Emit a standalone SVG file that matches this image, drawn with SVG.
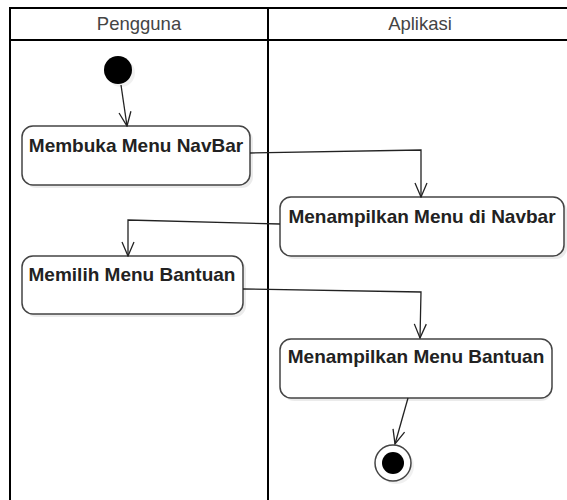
<svg xmlns="http://www.w3.org/2000/svg" width="567" height="500" viewBox="0 0 567 500">
<defs>
<style>
.lane{stroke:#000;stroke-width:2;fill:none}
.hdr{font-family:"Liberation Sans",Arial,sans-serif;font-size:18.5px;fill:#444;text-anchor:middle}
.box{fill:#fff;stroke:#444;stroke-width:1.5}
.shadow{fill:#000;opacity:0.08}
.lbl{font-family:"Liberation Sans",Arial,sans-serif;font-size:19px;font-weight:bold;fill:#222;text-anchor:middle}
.edge{fill:none;stroke:#222;stroke-width:1.3}
</style>
<marker id="arr" viewBox="0 0 16 14" refX="15" refY="7" markerWidth="16" markerHeight="14" markerUnits="userSpaceOnUse" orient="auto">
<path d="M1,1 L15,7 L1,13" fill="none" stroke="#222" stroke-width="1.3"/>
</marker>
</defs>
<rect width="567" height="500" fill="#fff"/>
<g id="lanes">
<line class="lane" x1="10" y1="8" x2="567" y2="8"/>
<line class="lane" x1="10" y1="40" x2="567" y2="40"/>
<line class="lane" x1="10" y1="7" x2="10" y2="500"/>
<line class="lane" x1="268" y1="8" x2="268" y2="500"/>
<text class="hdr" x="139" y="30">Pengguna</text>
<text class="hdr" x="420" y="30">Aplikasi</text>
</g>
<g id="start">
<circle cx="121" cy="73" r="14" fill="#000" opacity="0.06"/>
<circle cx="118" cy="70" r="14" fill="#000"/>
</g>
<g id="n1">
<rect class="shadow" x="25" y="129" width="228" height="59" rx="11"/>
<rect class="box" x="22" y="126" width="228" height="59" rx="11"/>
<text class="lbl" x="136" y="152">Membuka Menu NavBar</text>
</g>
<g id="n2">
<rect class="shadow" x="283" y="200" width="284" height="59" rx="11"/>
<rect class="box" x="280" y="197" width="284" height="59" rx="11"/>
<text class="lbl" x="422" y="223">Menampilkan Menu di Navbar</text>
</g>
<g id="n3">
<rect class="shadow" x="25" y="259" width="221" height="58" rx="11"/>
<rect class="box" x="22" y="256" width="221" height="58" rx="11"/>
<text class="lbl" x="132" y="281">Memilih Menu Bantuan</text>
</g>
<g id="n4">
<rect class="shadow" x="283" y="342" width="269" height="59" rx="11"/>
<rect class="box" x="280" y="339" width="272" height="59" rx="11"/>
<text class="lbl" x="416" y="363">Menampilkan Menu Bantuan</text>
</g>
<g id="end">
<circle cx="396" cy="466" r="18" fill="#000" opacity="0.06"/>
<circle cx="393" cy="463" r="18" fill="#fff" stroke="#444" stroke-width="1.5"/>
<circle cx="393" cy="463" r="11" fill="#000"/>
</g>
<g id="connectors">
<path class="edge" d="M121,85 L127,126" marker-end="url(#arr)"/>
<path class="edge" d="M250,153 L421,150 L421,197" marker-end="url(#arr)"/>
<path class="edge" d="M280,224 L128,220 L128,256" marker-end="url(#arr)"/>
<path class="edge" d="M243,289 L421,292 L420,338" marker-end="url(#arr)"/>
<path class="edge" d="M408,398 L395,444" marker-end="url(#arr)"/>
</g>
</svg>
